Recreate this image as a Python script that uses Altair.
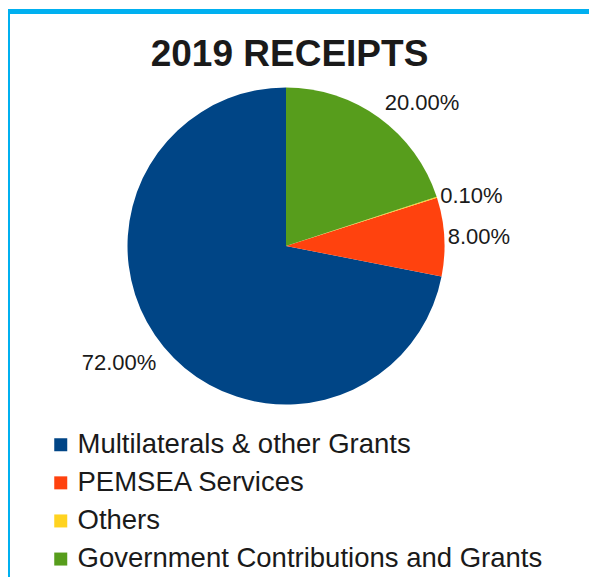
import altair as alt
import pandas as pd

# ---- data ----
categories = ["Multilaterals & other Grants", "PEMSEA Services", "Others",
              "Government Contributions and Grants"]
values = [72.0, 8.0, 0.1, 20.0]
labels = ["72.00%", "8.00%", "0.10%", "20.00%"]
slice_order = [4, 3, 2, 1]          # clockwise from 12 o'clock: Government, Others, PEMSEA, Multilaterals
colors = ["#004586", "#ff420e", "#ffd320", "#579d1c"]

df = pd.DataFrame({"category": categories, "value": values,
                   "label": labels, "slice_order": slice_order})

W, H = 581, 569
CX, CY = 278, 238
R = 158.5
FONT = "Liberation Sans"
TXT = "#1a1a1a"

theta = alt.Theta("value:Q", stack=True)
order = alt.Order("slice_order:Q", sort="ascending")
cx, cy = alt.value(CX), alt.value(CY)

pie = alt.Chart(df).mark_arc(radius=R).encode(
    theta=theta,
    order=order,
    x=cx, y=cy,
    color=alt.Color(
        "category:N",
        scale=alt.Scale(domain=categories, range=colors),
        sort=categories,
        legend=alt.Legend(
            title=None, orient="none", legendX=39, legendY=423,
            symbolType="square", symbolSize=169, symbolStrokeWidth=0,
            symbolOpacity=1, labelFont=FONT, labelFontSize=27.5,
            labelColor=TXT, labelOffset=3, rowPadding=9.1,
            labelLimit=600, padding=0,
        ),
    ),
)

def label_layer(cats, radius, align, baseline):
    return alt.Chart(df).mark_text(
        radius=radius, align=align, baseline=baseline,
        font=FONT, fontSize=22, color=TXT,
    ).encode(
        theta=theta,
        order=order,
        x=cx, y=cy,
        text=alt.condition(
            alt.FieldOneOfPredicate(field="category", oneOf=cats),
            "label:N", alt.value(""),
        ),
    )

lab_right = label_layer(["PEMSEA Services", "Others"], 162, "left", "middle")
lab_top = label_layer(["Government Contributions and Grants"], 168, "left", "alphabetic")
lab_left = label_layer(["Multilaterals & other Grants"], 168, "right", "top")

one = pd.DataFrame({"a": [0]})
border_top = alt.Chart(one).mark_rule(color="#00b0f0", strokeWidth=5).encode(
    x=alt.value(0), x2=alt.value(W), y=alt.value(3.5))
border_left = alt.Chart(one).mark_rule(color="#00b0f0", strokeWidth=4).encode(
    x=alt.value(0), y=alt.value(1), y2=alt.value(H))

chart = alt.layer(border_top, border_left, pie, lab_right, lab_top, lab_left).properties(
    width=W, height=H,
    autosize=alt.AutoSizeParams(type="none"),
    padding=0,
    background="white",
    title=alt.TitleParams(
        "2019 RECEIPTS", font=FONT, fontSize=37, fontWeight="bold",
        color=TXT, anchor="middle", frame="group", orient="top",
        offset=-96, baseline="alphabetic", dx=-9,
    ),
).configure_view(stroke=None)

chart.save("out.html", embed_options={"renderer": "svg", "actions": False})
